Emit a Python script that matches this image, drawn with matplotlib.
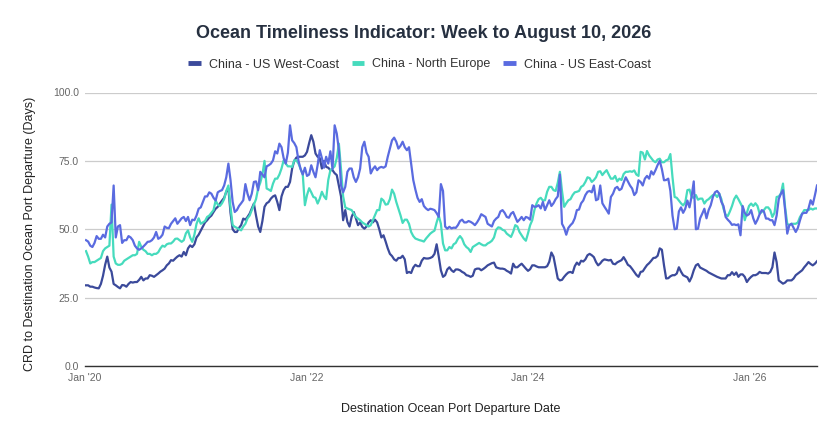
import pandas as pd
import matplotlib
matplotlib.use("Agg")
import matplotlib.pyplot as plt
from matplotlib.lines import Line2D
from matplotlib.ticker import FuncFormatter

plt.rcParams['font.family'] = ['Liberation Sans', 'DejaVu Sans']

# weekly readings, Jan 6 2020 .. Aug 10 2026 (345 weeks)
WEEK_END = '2026-08-10'

west_coast = (
    [29.5, 29.5, 29, 29, 28.7, 28.5, 28.4, 30, 33, 37, 40, 36, 34.5, 30, 29.5, 28.9, 28.4, 29.6, 29.5, 29,
     30, 30.7, 30.5, 30.7, 30.7, 31.5, 32.6, 31.3, 32, 32, 33.2, 33, 32.6, 33.2, 33.8, 34.5, 35, 35.6, 36.8, 37.5,
     38.7, 38.5, 39.3, 40, 40.5]
    + [40, 41.7, 40.5, 43, 44.1, 43.5, 44.5, 47, 48, 49.5, 51, 52.5, 53.3, 54.3, 55, 56.3, 57.5, 58.2, 59.4, 60.5,
       61.5, 63.7, 65, 56, 50, 49, 49, 50.5, 51.5, 53.9, 53.5, 54.5, 55.7, 57.5, 59.4, 55, 51, 49, 53, 58.2,
       59.5, 60, 61.2, 62, 62.4]
    + [60, 57, 62, 64.3, 65.5, 65.5, 67.3, 72.2, 75, 76.2, 76.5, 76.5, 76.5, 77, 78.3, 81.5, 84.4, 82, 77.7, 76.5,
       76, 72.2, 75, 72.8, 72.5, 71.6, 71.6, 70.5, 69.8, 66, 62, 53.3, 57, 52.7, 51, 54.5, 56.3, 54, 51.5, 52.5,
       50.9, 50.2, 51, 52.5, 53.3]
    + [52.5, 53.5, 52.5, 50, 47, 47.8, 45.5, 43, 41, 40.2, 39, 38.5, 39.5, 39.5, 40.3, 39, 34, 34.4, 34, 36,
       37, 36.5, 36.5, 38.5, 39.5, 39.3, 39.3, 39.5, 39.9, 41, 44.5, 40, 35, 32.6, 33.2, 35.3, 36.1, 35, 34.4, 35.3,
       35.3, 35, 34.4, 34, 33.2]
    + [33, 32.6, 33, 35.3, 35.6, 35.6, 35, 35.5, 36.1, 36.8, 37.2, 37.6, 37.8, 36.1, 35.8, 35.6, 35.6, 35.4, 34.8, 34.4,
       33.8, 37.4, 36.1, 36.1, 36.8, 37.4, 36.5, 35.6, 34.8, 35.4, 36.8, 36.8, 36.4, 36.1, 36.1, 36.1, 36.1, 36.5, 38.1, 41.5,
       40, 36, 32, 31.3, 31.5]
    + [32.6, 33.5, 34.2, 34.4, 34, 36.5, 37.8, 37, 38.5, 38.2, 39, 40.5, 41, 40.5, 39.8, 38, 36.8, 37.5, 38.5, 39,
       38.8, 38.6, 38.8, 37.4, 37.2, 37.9, 38.3, 38.7, 39.8, 38.5, 37, 36.5, 35.5, 34.4, 33.3, 32.6, 34.4, 34.6, 35.8, 36.9,
       37.6, 38.5, 39.5, 39.6, 40.3]
    + [43, 42.5, 36.8, 32, 32.1, 32.8, 33.2, 33.2, 33.8, 36.1, 34.5, 33.2, 32.8, 32.4, 30.9, 32.5, 35, 36.8, 37.3, 36,
       35.6, 35.2, 34.8, 34.2, 33.8, 33.4, 33, 32.6, 32.3, 32, 32, 32, 33.2, 33.2, 34.3, 33.3, 34.2, 32.6, 33.5, 33.5,
       32.6, 30.7, 31.8, 32.6, 33.2]
    + [33.2, 33.6, 34.4, 34, 34, 34, 33.8, 34.4, 36.1, 41.5, 38, 31.3, 30.7, 30.1, 30.5, 31.3, 31.3, 31.3, 32, 33.2,
       33.8, 34.4, 35, 36.1, 37, 38, 37.3, 36.8, 37.4, 38.3]
)

north_europe = (
    [42, 40, 37.5, 38, 38, 38.5, 39, 39.5, 42, 43, 43.5, 44, 59, 40, 37.5, 37, 37, 37.4, 38.5, 39,
     39.5, 40, 40.5, 40.5, 41, 45.4, 43.6, 42.5, 42, 41, 41, 40.5, 41, 41, 41.6, 43, 44, 43.6, 44.5, 44.8,
     44.8, 45.5, 46.5, 46.6, 46]
    + [45.4, 46, 48.5, 49.6, 47, 45.4, 48, 52, 54, 52, 52.5, 53, 54.5, 55, 56, 57, 60.5, 59, 58.5, 59.5,
       61, 64, 66, 58, 51.5, 50.9, 50.5, 50, 49.6, 51, 52, 54, 55, 57, 59, 61, 64.9, 67, 70, 75,
       64.9, 64.5, 64, 66.7, 68.5]
    + [68.5, 70, 72.2, 75.2, 74, 73, 73, 72.8, 75.2, 75.2, 74, 72, 70, 58.8, 62.5, 65, 63.5, 61.8, 61.5, 59.4,
       61.2, 63.7, 62, 61, 68, 71.6, 72.2, 73, 76, 81.3, 72, 62, 58, 57.6, 57.3, 57, 55.7, 54.5, 53.9, 53.3,
       52.5, 52, 51.5, 51, 51.5]
    + [53.3, 55, 57, 57, 61.2, 60.5, 59, 59.2, 61, 64.5, 63, 60, 57.6, 55.1, 52.3, 53.5, 53.5, 52, 49, 47.5,
       46.6, 46.3, 46, 45.8, 45.5, 46.6, 47.5, 48.4, 49, 49.5, 52.5, 55, 52, 44.8, 42.3, 42.3, 43.5, 43, 44.5, 45,
       46.5, 47.5, 46.5, 44.5, 43.5]
    + [42.9, 41.7, 43.5, 44, 44.5, 45, 44.5, 44.1, 44.1, 44.8, 45.2, 45.8, 47, 49.8, 50.7, 50.5, 49.8, 49.5, 48.4, 47.8,
       47.2, 49, 51.5, 51, 49, 47.8, 46.6, 45.8, 48.5, 51.5, 53.3, 57, 59.4, 61, 61.5, 60.5, 60.6, 63.7, 65.5, 65.5,
       64.3, 64, 67, 71, 64]
    + [58.2, 59.5, 60.6, 61, 62.5, 63.5, 63.7, 64, 65.5, 66, 67.3, 69, 68.7, 67.3, 68, 69, 71, 71.2, 69.8, 70.8,
       71.6, 70, 68.5, 68.5, 69.5, 67.5, 68.5, 68, 70.2, 71, 71, 71.2, 71, 71.5, 70, 69.5, 78.3, 78, 75.5, 78.6,
       77, 76, 75, 74.5, 75.5]
    + [75.8, 74.5, 74.5, 75.2, 75.5, 77.5, 69, 61.8, 61.5, 60.5, 59.5, 58.7, 59.8, 64.3, 64.5, 61.8, 61.5, 62.5, 60.8, 61.2,
       61.2, 59.4, 60.5, 61, 61.8, 62.5, 62.8, 61.8, 63, 61, 57.5, 55.3, 54.8, 56.5, 58.5, 61, 62.3, 61, 59.5, 58,
       53.3, 56, 58.5, 59.4, 58.5]
    + [59.5, 58.5, 55.7, 56.3, 57, 58, 58, 57, 54.5, 56, 61.8, 62, 63, 66.7, 58, 52, 51.5, 52, 52, 52,
       52.5, 54.5, 55.7, 57, 57, 57, 57.6, 57.2, 57.6, 57.6]
)

east_coast = (
    [46, 45.5, 44, 43.5, 45, 47.5, 46.5, 46.5, 48, 47, 51, 52, 52.5, 66, 47, 51, 51.5, 45, 46, 46,
     47.5, 47, 46, 44, 43, 42.5, 43, 43.7, 44.5, 45.4, 45.5, 46, 47, 49, 46.5, 47, 48, 51, 50.5, 50.4,
     52, 53, 54, 52, 53]
    + [54, 54.5, 53, 54.5, 51.5, 53.5, 53.3, 55, 57.5, 58, 60, 62, 62, 63.5, 63, 61.5, 60.5, 63.5, 64, 64.3,
       66, 69, 74, 68, 60, 56.3, 57, 58.5, 59.5, 60.6, 66.5, 63, 60.6, 63, 67.3, 67.5, 64.3, 71, 70, 69,
       73, 73.4, 74, 75.2, 78.5]
    + [77.7, 81.3, 80, 76, 74, 78, 88, 82.5, 81.5, 80, 75, 72, 70, 72.5, 69.5, 70, 73.4, 71, 69, 73.5,
       78.9, 76, 72.5, 76.5, 74, 78.5, 72, 88, 85, 79, 66, 63.5, 65.5, 71, 72.2, 72.2, 69, 67.3, 69, 72.2,
       80, 82, 78, 76.5, 70.4]
    + [72, 73, 71.6, 72.5, 72.8, 72.5, 73, 76.5, 79.5, 82.5, 83.5, 82, 79.5, 80.5, 82, 80, 78.9, 80, 74, 68,
       64.5, 61.5, 60, 61, 58.5, 57.6, 57, 57.5, 57.3, 57, 55.9, 54.5, 66.5, 64, 51, 50.2, 50.9, 50.3, 50.6, 50.5,
       51.5, 53, 53.5, 52.5, 52.5]
    + [53, 52.7, 52.2, 51.5, 52.5, 53.8, 55.5, 55, 54.5, 52, 51.5, 51, 53, 53.9, 54.5, 56.5, 57, 56, 54.5, 54.2,
       55.7, 56.3, 54.5, 52.7, 53.5, 54.5, 53.3, 54.5, 54.2, 53.5, 58.8, 58.2, 58.3, 58.8, 57.6, 60, 57, 58.8, 60.6, 58.5,
       59.5, 61, 62, 70, 52]
    + [50.5, 48, 50.5, 51.5, 52.3, 54, 57, 57.2, 59.5, 60.5, 62.5, 63.7, 64, 63.5, 66, 60.6, 61, 66, 59.5, 58.2,
       57, 55.7, 61.8, 63, 65, 65.5, 64.3, 64.8, 67, 69, 67.5, 66, 64.9, 62.5, 63.5, 67.9, 67.3, 66, 68.5, 69.5,
       68.5, 71.2, 70, 71.6, 73.5]
    + [75, 72, 67.9, 68, 68.5, 64, 55, 50, 50.2, 56.5, 58, 56, 57.5, 60.5, 58, 62, 67.5, 50, 50.2, 54,
       55.7, 57.5, 54, 57, 58.8, 61.8, 63.5, 64, 63, 60, 58.5, 54.5, 53.5, 52.7, 51.6, 51.8, 51.5, 51.8, 47.8, 58.5,
       56, 55, 55.5, 57, 54]
    + [52, 53.5, 55.5, 57, 56.5, 53.9, 53.9, 53.3, 53.3, 51.5, 55, 61, 63, 64.3, 57, 48.4, 51.5, 52, 50.5, 49,
       50.5, 53.3, 55.7, 56, 56, 57.6, 60.6, 59, 62.4, 66]
)

series_names = ['China - US West-Coast', 'China - North Europe', 'China - US East-Coast']
series_colors = ['#3b4a9b', '#46dbbd', '#5a6be0']
y_ticks = [0, 25, 50, 75, 100]
x_ticks = ['2020-01-01', '2022-01-01', '2024-01-01', '2026-01-01']
x_tick_labels = ["Jan '20", "Jan '22", "Jan '24", "Jan '26"]

dates = pd.date_range(end=WEEK_END, periods=len(west_coast), freq='7D')

fig = plt.figure(figsize=(8.39, 4.38), dpi=100)
ax = fig.add_axes([84.5 / 839, 1 - 366 / 438, (817 - 84.5) / 839, (366 - 92.5) / 438])

for valores, nome, cor in zip([west_coast, north_europe, east_coast], series_names, series_colors):
    ax.plot(dates[:len(valores)], valores, color=cor, linewidth=1.6, label=nome)

ax.set_ylim(0, 100)
ax.set_xlim(pd.Timestamp('2020-01-01'), pd.Timestamp(WEEK_END))
ax.set_yticks(y_ticks)
ax.yaxis.set_major_formatter(FuncFormatter(lambda v, _: f'{v:.1f}'))
ax.set_xticks([pd.Timestamp(d) for d in x_ticks])
ax.set_xticklabels(x_tick_labels)

ax.grid(axis='y', color='#cccccc', linewidth=0.9)
ax.set_axisbelow(True)
for lado in ['top', 'right', 'left']:
    ax.spines[lado].set_visible(False)
ax.spines['bottom'].set_color('#333333')
ax.spines['bottom'].set_linewidth(1.0)
ax.tick_params(axis='both', length=0, labelsize=7.5, labelcolor='#666666')
ax.tick_params(axis='y', pad=4)
ax.tick_params(axis='x', pad=5)

fig.suptitle('Ocean Timeliness Indicator: Week to August 10, 2026', x=424 / 839, y=1 - 34 / 438,
             va='center', fontsize=13, fontweight='bold', color='#263040')

handles = [Line2D([0], [0], color=c, linewidth=3.5, solid_capstyle='butt') for c in series_colors]
fig.legend(handles, series_names, loc='center', bbox_to_anchor=(0.5, 1 - 64.5 / 438), ncol=3,
           frameon=False, fontsize=9, handlelength=1.0, handletextpad=0.65, columnspacing=1.0,
           labelcolor='#333333')

fig.text(30 / 839, 1 - 234 / 438, 'CRD to Destination Ocean Port Departure (Days)', rotation=90,
         ha='center', va='center', fontsize=9, color='#222222')
fig.text(451 / 839, 1 - 409 / 438, 'Destination Ocean Port Departure Date',
         ha='center', va='center', fontsize=9, color='#222222')

fig.savefig('out.png', dpi=100)
